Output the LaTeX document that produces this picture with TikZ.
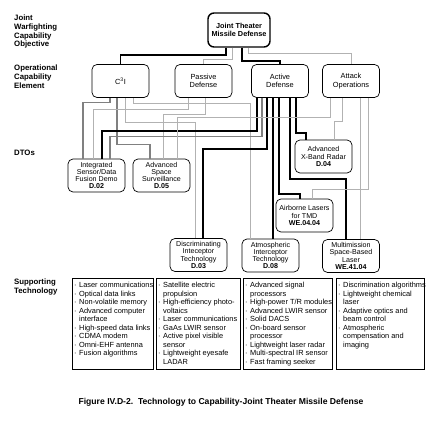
\documentclass[tikz,border=0pt]{standalone}
\usepackage{fontspec}
\setmainfont{Liberation Sans}
\newcommand\bitem[1]{\makebox[5pt][l]{·}#1}
\newcommand\bcont[1]{\hspace*{5pt}#1}
\begin{document}
\begin{tikzpicture}[x=1pt,y=-1pt,
  box/.style={draw, rounded corners=5pt, line width=0.7pt, minimum width=57pt, minimum height=33pt, inner sep=1pt, align=center},
  oce/.style={box, font=\fontsize{7.4}{8.2}\selectfont},
  dto/.style={box, font=\fontsize{7.1}{7.3}\selectfont},
  topbox/.style={box, line width=1.4pt, rounded corners=6pt, minimum width=62pt, minimum height=34pt, font=\bfseries\fontsize{7.3}{8.2}\selectfont},
  tech/.style={draw, line width=0.6pt, inner sep=0pt, minimum height=91pt, anchor=north west},
  techtxt/.style={anchor=north west, align=left, inner sep=0pt, font=\fontsize{7.4}{8.5}\selectfont},
  lbl/.style={anchor=north west, align=left, inner sep=0pt, font=\bfseries\fontsize{7.8}{8.7}\selectfont},
  thk/.style={line width=1.7pt, black},
  md/.style={line width=1.1pt, black!50},
  lt/.style={line width=0.9pt, black!30},
]
\useasboundingbox[fill=white] (0,0) rectangle (440,422);

% left labels
\node[lbl] (l1) at (14,15) {Joint\\Warfighting\\Capability\\Objective};
\node[lbl] (l2) at (14,65) {Operational\\Capability\\Element};
\node[lbl] (l3) at (14,150) {DTOs};
\node[lbl] (l4) at (14,279) {Supporting\\Technology};

% top
\node[topbox] (top) at (239,30) {Joint Theater\\Missile Defense};

% operational capability elements
\node[oce] (c3i) at (120.5,81) {C\textsuperscript{3}I};
\node[oce] (pas) at (203.5,81) {Passive\\Defense};
\node[oce] (act) at (280,81) {Active\\Defense};
\node[oce] (att) at (351,81) {Attack\\Operations};

% DTOs
\node[dto] (d02) at (96.5,175.5) {Integrated\\Sensor/Data\\Fusion Demo\\\textbf{D.02}};
\node[dto] (d05) at (161.5,175.5) {Advanced\\Space\\Surveillance\\\textbf{D.05}};
\node[dto] (d04) at (323.5,156.5) {Advanced\\X-Band Radar\\\textbf{D.04}};
\node[dto] (we0404) at (304.5,215.5) {Airborne Lasers\\for TMD\\\textbf{WE.04.04}};
\node[dto] (d03) at (198.5,255) {Discriminating\\Inteceptor\\Technology\\\textbf{D.03}};
\node[dto] (d08) at (270.5,255.5) {Atmospheric\\Interceptor\\Technology\\\textbf{D.08}};
\node[dto] (we4104) at (351,256) {Multimission\\Space-Based\\Laser\\\textbf{WE.41.04}};

% supporting technology frames
\node[tech, minimum width=81pt] (t1) at (72,278) {};
\node[tech, minimum width=84pt] (t2) at (156,278) {};
\node[tech, minimum width=89pt] (t3) at (243,278) {};
\node[tech, minimum width=88pt] (t4) at (336,278) {};
% supporting technology texts
\node[techtxt] (t1x) at ([xshift=2pt,yshift=-4pt]t1.north west) {\bitem{Laser communications}\\\bitem{Optical data links}\\\bitem{Non-volatile memory}\\\bitem{Advanced computer}\\\bcont{interface}\\\bitem{High-speed data links}\\\bitem{CDMA  modem}\\\bitem{Omni-EHF antenna}\\\bitem{Fusion algorithms}};
\node[techtxt] (t2x) at ([xshift=2pt,yshift=-4pt]t2.north west) {\bitem{Satellite electric}\\\bcont{propulsion}\\\bitem{High-efficiency photo-}\\\bcont{voltaics}\\\bitem{Laser communications}\\\bitem{GaAs LWIR sensor}\\\bitem{Active pixel visible}\\\bcont{sensor}\\\bitem{Lightweight eyesafe}\\\bcont{LADAR}};
\node[techtxt] (t3x) at ([xshift=2pt,yshift=-4pt]t3.north west) {\bitem{Advanced signal}\\\bcont{processors}\\\bitem{High-power T/R modules}\\\bitem{Advanced LWIR sensor}\\\bitem{Solid DACS}\\\bitem{On-board sensor}\\\bcont{processor}\\\bitem{Lightweight laser radar}\\\bitem{Multi-spectral IR sensor}\\\bitem{Fast framing seeker}};
\node[techtxt] (t4x) at ([xshift=2pt,yshift=-4pt]t4.north west) {\bitem{Discrimination algorithms}\\\bitem{Lightweight chemical}\\\bcont{laser}\\\bitem{Adaptive optics and}\\\bcont{beam control}\\\bitem{Atmospheric}\\\bcont{compensation and}\\\bcont{imaging}};

% caption
\node[font=\bfseries\fontsize{8.6}{9}\selectfont, inner sep=0pt] (cap) at (221,402) {Figure IV.D-2.\ \ Technology to Capability-Joint Theater Missile Defense};

% top connectors
\draw[thk] (226,0 |- top.south) -- ++(0,7) -| (c3i.north);
\draw[lt]  (232,0 |- top.south) -- ++(0,12) -| (pas.north);
\draw[thk] (242,0 |- top.south) -- ++(0,13) -| (act.north);
\draw[lt]  (248,0 |- top.south) -- ++(0,6) -| (att.north);

% C3I
\draw[md] (110,0 |- c3i.south) -- ++(0,5) -| (83,0 |- d02.north);
\draw[md] (117,0 |- c3i.south) -- ++(0,47) -| (150,0 |- d05.north);
\draw[lt] (125,0 |- c3i.south) -- ++(0,25) -| (195,0 |- d03.north);
\draw[lt] (133,0 |- c3i.south) -- ++(0,6) -| (250,0 |- d08.north);

% Passive
\draw[lt] (188,0 |- pas.south) -- ++(0,12) -| (93,0 |- d02.north);
\draw[lt] (205,0 |- pas.south) -- ++(0,17) -| (163,0 |- d05.north);

% Active
\draw[thk] (257,0 |- act.south) -- ++(0,33) -| (102,0 |- d02.north);
\draw[md]  (262,0 |- act.south) -- ++(0,39) -| (110,0 |- d02.north);
\draw[thk] (267,0 |- act.south) -- ++(0,51) -| (203,0 |- d03.north);
\draw[thk] (273,0 |- act.south) -- (273,0 |- d08.north);
\draw[thk] (279,0 |- act.south) -- ++(0,96) -| (300,0 |- we0404.north);
\draw[thk] (290,0 |- act.south) -- ++(0,81) -| (346,0 |- we4104.north);
\draw[thk] (296,0 |- act.south) -- ++(0,35) -| (306,0 |- d04.north);

% Attack
\draw[lt] (330,0 |- att.south) -- ++(0,20) -| (177,0 |- d05.north);
\draw[lt] (342,0 |- att.south) -- ++(0,24) -| (334,0 |- d04.north);
\draw[lt] (360,0 |- att.south) -- (360,0 |- we4104.north);
\draw[lt] (368,0 |- att.south) -- ++(0,92) -| (312,0 |- we0404.north);
\end{tikzpicture}
\end{document}
